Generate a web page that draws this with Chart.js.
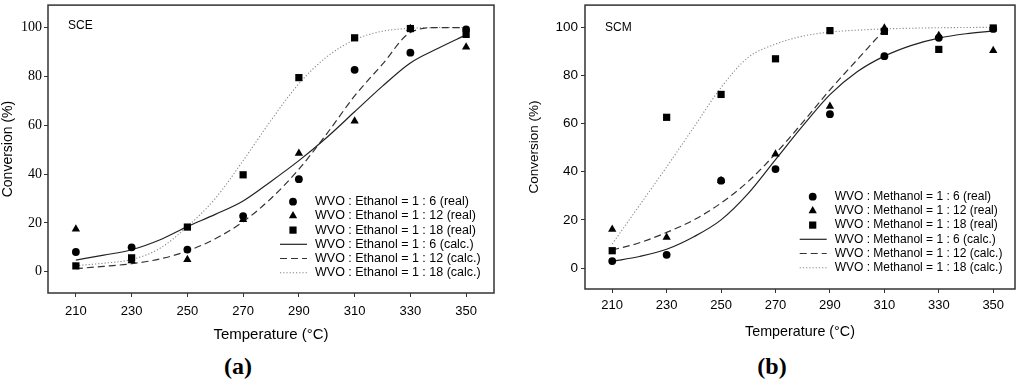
<!DOCTYPE html>
<html lang="en">
<head>
  <meta charset="UTF-8">
  <title>conversion-vs-temperature</title>
  <style>
    body { margin: 0; background: #fff; }
    .wrap { position: relative; width: 1024px; height: 381px; }
    .panel { position: absolute; top: 0; width: 512px; height: 345px; }
    .tag {
      position: absolute; top: 352px; width: 60px; text-align: center;
      font-family: 'Liberation Serif', 'Times New Roman', serif;
      font-weight: bold; font-size: 24px; line-height: 28px; color: #000;
    }
  </style>
  <script src="https://cdn.jsdelivr.net/npm/chart.js@4.4.6/dist/chart.umd.min.js"></script>
</head>
<body>
<div class="wrap">
  <div class="panel" style="left:0"><canvas id="chartA" width="512" height="345"></canvas></div>
  <div class="panel" style="left:512px"><canvas id="chartB" width="512" height="345"></canvas></div>
  <div class="tag" style="left:208px">(a)</div>
  <div class="tag" style="left:742px">(b)</div>
</div>
<script>
// measured temperatures (real points) and temperatures where the fitted curves were read
var tempsReal = [210, 230, 250, 270, 290, 310, 330, 350];
var tempsCalc = [210, 220, 230, 240, 250, 260, 270, 280, 290, 300, 310, 320, 330, 340, 350];
var tempsCalcShort = [210, 220, 230, 240, 250, 260, 270, 280, 290, 300, 310];
var xTicks = [210, 230, 250, 270, 290, 310, 330, 350];
var yTicks = [0, 20, 40, 60, 80, 100];

// (a) SCE - ethanol
var sceReal6  = [8.1, 10.0, 9.1, 22.8, 37.9, 82.7, 89.7, 99.2];
var sceReal12 = [17.5, 4.5, 5.0, 21.4, 48.5, 61.7, 99.6, 92.0];
var sceReal18 = [2.4, 5.7, 18.3, 39.7, 79.5, 95.8, 99.6, 97.2];
var sceCalc6  = [4.8, 6.8, 9.0, 13.0, 18.5, 23.5, 29.0, 37.0, 45.5, 55.0, 65.5, 76.0, 85.5, 91.5, 97.0];
var sceCalc12 = [1.3, 2.2, 3.3, 5.2, 8.5, 13.5, 20.5, 30.0, 42.0, 56.5, 72.0, 85.0, 98.0, 100, 100];
var sceCalc18 = [2.5, 3.5, 5.0, 9.5, 18.5, 30.0, 45.5, 62.0, 77.0, 88.0, 95.0, 98.5, 99.7, 100, 100];

// (b) SCM - methanol
var scmReal6  = [2.9, 5.5, 36.3, 41.1, 63.9, 88.0, 95.6, 99.3];
var scmReal12 = [16.1, 12.8, 36.3, 47.3, 67.2, 99.7, 96.6, 90.3];
var scmReal18 = [7.2, 62.6, 72.1, 86.9, 98.6, 98.3, 90.8, 99.7];
var scmCalc6  = [2.8, 4.8, 7.8, 13.0, 20.0, 31.0, 45.0, 59.0, 72.0, 81.5, 88.0, 92.5, 95.5, 97.3, 98.4];
var scmCalc12 = [7.5, 10.5, 14.8, 20.0, 27.0, 36.0, 47.5, 60.5, 74.0, 86.5, 99.0];
var scmCalc18 = [10.0, 26.0, 42.0, 58.5, 75.0, 87.5, 93.0, 96.3, 98.0, 98.8, 99.3, 99.6, 99.8, 99.9, 100];

function pts(xs, ys) {
  return xs.map(function(x, i) { return { x: x, y: ys[i] }; });
}

function realSet(label, xs, ys, style, r) {
  return {
    label: label, data: pts(xs, ys), showLine: false,
    pointStyle: style, pointRadius: r, pointHoverRadius: r,
    pointBackgroundColor: '#000', pointBorderWidth: 0, borderColor: '#000'
  };
}

function calcSet(label, xs, ys, dash, color, width) {
  return {
    label: label, data: pts(xs, ys), showLine: true,
    borderColor: color, borderWidth: width, borderDash: dash,
    pointRadius: 0, cubicInterpolationMode: 'monotone', fill: false
  };
}

// frame around the plot + panel name in the corner
var framePlugin = {
  id: 'frame',
  afterDraw: function(chart, args, opts) {
    var c = chart.ctx, a = chart.chartArea;
    c.save();
    c.strokeStyle = '#333';
    c.lineWidth = 1.5;
    c.strokeRect(a.left, a.top, a.right - a.left, a.bottom - a.top);
    c.fillStyle = '#000';
    c.font = '12px "Liberation Sans", Arial, sans-serif';
    c.textBaseline = 'middle';
    c.fillText(opts.name, a.left + 20, a.top + opts.nameY);
    c.restore();
  }
};

// legend sits inside the plot, lower right
var insideLegend = {
  id: 'insideLegend',
  afterDatasetsDraw: function(chart, args, opts) {
    var c = chart.ctx, a = chart.chartArea;
    var mx = a.right - opts.fromRight;
    var y = a.bottom - opts.fromBottom;
    c.save();
    c.font = opts.font;
    c.textBaseline = 'middle';
    chart.data.datasets.forEach(function(ds) {
      if (ds.showLine) {
        c.strokeStyle = ds.borderColor;
        c.lineWidth = ds.borderWidth;
        c.setLineDash(ds.borderDash || []);
        c.beginPath();
        c.moveTo(mx - 13, y);
        c.lineTo(mx + 14, y);
        c.stroke();
        c.setLineDash([]);
      } else {
        c.fillStyle = '#000';
        Chart.helpers.drawPoint(c, { pointStyle: ds.pointStyle, radius: ds.pointRadius, borderWidth: 0, rotation: 0 }, mx, y);
      }
      c.fillStyle = '#000';
      c.fillText(ds.label, mx + opts.textGap, y);
      y += opts.rowGap;
    });
    c.restore();
  }
};

function makePanel(id, p) {
  var sans = '"Liberation Sans", Arial, sans-serif';
  return new Chart(document.getElementById(id), {
    type: 'scatter',
    data: {
      datasets: [
        realSet(p.word + ' = 1 : 6 (real)', tempsReal, p.r6, 'circle', 3.9),
        realSet(p.word + ' = 1 : 12 (real)', tempsReal, p.r12, 'triangle', 4.8),
        realSet(p.word + ' = 1 : 18 (real)', tempsReal, p.r18, 'rect', 5.1),
        calcSet(p.word + ' = 1 : 6 (calc.)', tempsCalc, p.c6, [], '#222', 1.2),
        calcSet(p.word + ' = 1 : 12 (calc.)', p.c12x, p.c12, [7, 4], '#333', 1.2),
        calcSet(p.word + ' = 1 : 18 (calc.)', tempsCalc, p.c18, [1.2, 2], '#888', 1.1)
      ]
    },
    options: {
      responsive: false,
      animation: false,
      devicePixelRatio: 1,
      layout: { padding: { left: 0, top: p.top, right: p.right, bottom: 0 } },
      plugins: {
        legend: { display: false },
        tooltip: { enabled: false },
        frame: { name: p.name, nameY: p.nameY },
        insideLegend: { fromRight: p.lgRight, fromBottom: p.lgBottom, textGap: 22, rowGap: 14.2, font: p.lgFont + ' ' + sans }
      },
      scales: {
        x: {
          type: 'linear', min: 200, max: p.xMax,
          afterBuildTicks: function(s) { s.ticks = xTicks.map(function(v) { return { value: v }; }); },
          afterFit: function(s) { s.height = 345 - p.bottom; },
          grid: { drawOnChartArea: false, drawTicks: true, tickLength: 4, color: '#333' },
          border: { display: false },
          ticks: { color: '#000', padding: p.xPad, font: { family: sans, size: 13 }, maxRotation: 0 },
          title: { display: true, text: 'Temperature (°C)', color: '#000', padding: { top: 0, bottom: p.xTitlePad }, font: { family: sans, size: p.xTitleSize } }
        },
        y: {
          type: 'linear', min: -8.7, max: 109.2,
          afterBuildTicks: function(s) { s.ticks = yTicks.map(function(v) { return { value: v }; }); },
          afterFit: function(s) { s.width = p.left; },
          grid: { drawOnChartArea: false, drawTicks: true, tickLength: 4, color: '#333' },
          border: { display: false },
          // small lineHeight keeps the label half-height from pushing the plot top down
          ticks: { color: '#000', padding: p.yPad, font: Object.assign({ lineHeight: 0.3 }, p.yFont) },
          title: { display: true, text: 'Conversion (%)', color: '#000', padding: { top: p.yTitlePad, bottom: 0 }, font: { family: sans, size: p.yTitleSize } }
        }
      }
    },
    plugins: [framePlugin, insideLegend]
  });
}

makePanel('chartA', {
  word: 'WVO : Ethanol', name: 'SCE', nameY: 21,
  r6: sceReal6, r12: sceReal12, r18: sceReal18,
  c6: sceCalc6, c12x: tempsCalc, c12: sceCalc12, c18: sceCalc18,
  left: 48, top: 3, right: 18, bottom: 293, xMax: 360,
  xPad: 7, xTitlePad: 1, xTitleSize: 15,
  yPad: 2, yTitlePad: 0, yTitleSize: 14,
  yFont: { family: '"Liberation Serif", "Times New Roman", serif', size: 14 },
  lgRight: 201, lgBottom: 91.3, lgFont: '12.5px'
});

makePanel('chartB', {
  word: 'WVO : Methanol', name: 'SCM', nameY: 22.7,
  r6: scmReal6, r12: scmReal12, r18: scmReal18,
  c6: scmCalc6, c12x: tempsCalcShort, c12: scmCalc12, c18: scmCalc18,
  left: 73, top: 4, right: 9, bottom: 289, xMax: 358,
  xPad: 5, xTitlePad: 4, xTitleSize: 14.3,
  yPad: 3, yTitlePad: 14, yTitleSize: 13.5,
  yFont: { family: '"Liberation Sans", Arial, sans-serif', size: 13.5 },
  lgRight: 202.3, lgBottom: 92.3, lgFont: '12px'
});
</script>
</body>
</html>
